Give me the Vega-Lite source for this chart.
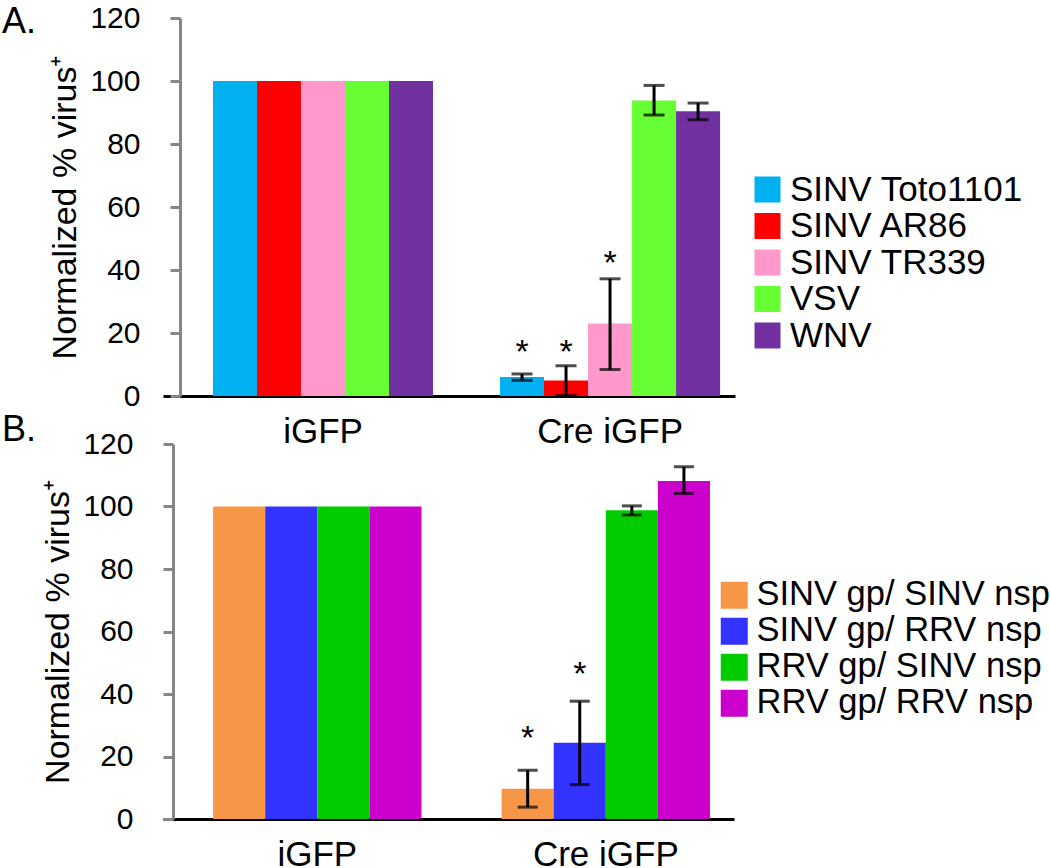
{
  "$schema": "https://vega.github.io/schema/vega-lite/v6.json",
  "background": "white",
  "padding": {"left": 2, "top": 3, "right": 5, "bottom": 0},
  "spacing": 48,
  "bounds": "flush",
  "config": {
    "font": "Liberation Sans",
    "view": {"stroke": null},
    "axis": {"labelColor": "black", "titleColor": "black", "grid": false, "titleFontWeight": "normal", "labelFont": "Liberation Sans", "titleFont": "Liberation Sans"},
    "legend": {"labelFont": "Liberation Sans", "labelColor": "black", "labelLimit": 0},
    "title": {"font": "Liberation Sans", "color": "black", "fontWeight": "normal"}
  },
  "resolve": {"scale": {"color": "independent", "x": "independent", "y": "independent", "xOffset": "independent"}, "legend": {"color": "independent"}},
  "vconcat": [
    {
      "title": {"text": "A.", "anchor": "start", "frame": "group", "fontSize": 36, "baseline": "alphabetic", "offset": -66, "dx": -161},
      "width": 572,
      "height": 378,
      "data": {"values": [
        {"group": "iGFP", "virus": "SINV Toto1101", "value": 100, "lo": null, "hi": null, "star": null},
        {"group": "iGFP", "virus": "SINV AR86", "value": 100, "lo": null, "hi": null, "star": null},
        {"group": "iGFP", "virus": "SINV TR339", "value": 100, "lo": null, "hi": null, "star": null},
        {"group": "iGFP", "virus": "VSV", "value": 100, "lo": null, "hi": null, "star": null},
        {"group": "iGFP", "virus": "WNV", "value": 100, "lo": null, "hi": null, "star": null},
        {"group": "Cre iGFP", "virus": "SINV Toto1101", "value": 6.0, "lo": 5.0, "hi": 7.0, "star": 16.3},
        {"group": "Cre iGFP", "virus": "SINV AR86", "value": 4.9, "lo": 0.2, "hi": 9.6, "star": 16.3},
        {"group": "Cre iGFP", "virus": "SINV TR339", "value": 23.0, "lo": 8.4, "hi": 37.2, "star": 44.4},
        {"group": "Cre iGFP", "virus": "VSV", "value": 93.8, "lo": 89.2, "hi": 98.6, "star": null},
        {"group": "Cre iGFP", "virus": "WNV", "value": 90.4, "lo": 87.7, "hi": 93.0, "star": null}
      ]},
      "encoding": {
        "x": {"field": "group", "type": "nominal", "sort": ["iGFP", "Cre iGFP"],
          "scale": {"type": "band", "paddingInner": 0.2334, "paddingOuter": 0.113, "align": 0.77},
          "axis": {"title": null, "labelAngle": 0, "labelFontSize": 35, "labelPadding": 18, "ticks": false, "tickSize": 0, "domainColor": "black", "domainWidth": 3}},
        "xOffset": {"field": "virus", "type": "nominal", "sort": ["SINV Toto1101", "SINV AR86", "SINV TR339", "VSV", "WNV"], "scale": {"type": "band", "paddingInner": 0, "paddingOuter": 0}}
      },
      "layer": [
        {
          "mark": {"type": "bar", "width": {"band": 1}},
          "encoding": {
            "y": {"field": "value", "type": "quantitative", "scale": {"domain": [0, 120]},
              "axis": {"title": "Normalized % virus⁺", "values": [0, 20, 40, 60, 80, 100, 120], "labelFontSize": 30, "titleFontSize": 34, "labelAlign": "right", "domainColor": "#868686", "tickColor": "#868686", "domainWidth": 3, "tickWidth": 3, "tickSize": 10, "labelPadding": 30, "offset": -17, "titlePadding": 7}},
            "color": {"field": "virus", "type": "nominal",
              "scale": {"domain": ["SINV Toto1101", "SINV AR86", "SINV TR339", "VSV", "WNV"], "range": ["#00B0F0", "#FF0000", "#FF99CC", "#66FF33", "#7030A0"]},
              "legend": {"orient": "none", "legendX": 587, "legendY": 154, "title": null, "symbolType": "square", "symbolSize": 676, "symbolStrokeWidth": 0, "symbolOpacity": 1, "labelFontSize": 35, "labelOffset": 5, "rowPadding": 0.5, "padding": 0}}
          }
        },
        {
          "transform": [{"filter": "datum.lo != null"}],
          "mark": {"type": "rule", "color": "black", "strokeWidth": 3},
          "encoding": {"y": {"field": "lo", "type": "quantitative"}, "y2": {"field": "hi"}}
        },
        {
          "transform": [{"filter": "datum.lo != null"}],
          "mark": {"type": "tick", "color": "black", "thickness": 3, "size": 21, "orient": "horizontal"},
          "encoding": {"y": {"field": "lo", "type": "quantitative"}}
        },
        {
          "transform": [{"filter": "datum.hi != null"}],
          "mark": {"type": "tick", "color": "black", "thickness": 3, "size": 21, "orient": "horizontal"},
          "encoding": {"y": {"field": "hi", "type": "quantitative"}}
        },
        {
          "transform": [{"filter": "datum.star != null"}],
          "mark": {"type": "text", "text": "*", "fontSize": 34, "baseline": "middle", "align": "center", "color": "black", "dy": 8},
          "encoding": {"y": {"field": "star", "type": "quantitative"}}
        }
      ]
    },
    {
      "title": {"text": "B.", "anchor": "start", "frame": "group", "fontSize": 36, "baseline": "alphabetic", "offset": -48, "dx": -161},
      "width": 571,
      "height": 375,
      "data": {"values": [
        {"group": "iGFP", "virus": "SINV gp/ SINV nsp", "value": 100, "lo": null, "hi": null, "star": null},
        {"group": "iGFP", "virus": "SINV gp/ RRV nsp", "value": 100, "lo": null, "hi": null, "star": null},
        {"group": "iGFP", "virus": "RRV gp/ SINV nsp", "value": 100, "lo": null, "hi": null, "star": null},
        {"group": "iGFP", "virus": "RRV gp/ RRV nsp", "value": 100, "lo": null, "hi": null, "star": null},
        {"group": "Cre iGFP", "virus": "SINV gp/ SINV nsp", "value": 9.7, "lo": 3.8, "hi": 15.6, "star": 28.1},
        {"group": "Cre iGFP", "virus": "SINV gp/ RRV nsp", "value": 24.4, "lo": 11.0, "hi": 37.7, "star": 48.5},
        {"group": "Cre iGFP", "virus": "RRV gp/ SINV nsp", "value": 98.8, "lo": 97.3, "hi": 100.2, "star": null},
        {"group": "Cre iGFP", "virus": "RRV gp/ RRV nsp", "value": 108.2, "lo": 104.2, "hi": 112.7, "star": null}
      ]},
      "encoding": {
        "x": {"field": "group", "type": "nominal", "sort": ["iGFP", "Cre iGFP"],
          "scale": {"type": "band", "paddingInner": 0.2778, "paddingOuter": 0.1285, "align": 0.676},
          "axis": {"title": null, "labelAngle": 0, "labelFontSize": 35, "labelPadding": 18, "ticks": false, "tickSize": 0, "domainColor": "black", "domainWidth": 3}},
        "xOffset": {"field": "virus", "type": "nominal", "sort": ["SINV gp/ SINV nsp", "SINV gp/ RRV nsp", "RRV gp/ SINV nsp", "RRV gp/ RRV nsp"], "scale": {"type": "band", "paddingInner": 0, "paddingOuter": 0}}
      },
      "layer": [
        {
          "mark": {"type": "bar", "width": {"band": 1}},
          "encoding": {
            "y": {"field": "value", "type": "quantitative", "scale": {"domain": [0, 120]},
              "axis": {"title": "Normalized % virus⁺", "values": [0, 20, 40, 60, 80, 100, 120], "labelFontSize": 30, "titleFontSize": 34, "labelAlign": "right", "domainColor": "#868686", "tickColor": "#868686", "domainWidth": 3, "tickWidth": 3, "tickSize": 10, "labelPadding": 30, "offset": -10, "titlePadding": 7}},
            "color": {"field": "virus", "type": "nominal",
              "scale": {"domain": ["SINV gp/ SINV nsp", "SINV gp/ RRV nsp", "RRV gp/ SINV nsp", "RRV gp/ RRV nsp"], "range": ["#F79646", "#3333FF", "#00CC00", "#CC00CC"]},
              "legend": {"orient": "none", "legendX": 554, "legendY": 134, "title": null, "symbolType": "square", "symbolSize": 729, "symbolStrokeWidth": 0, "symbolOpacity": 1, "labelFontSize": 34.5, "labelOffset": 5, "rowPadding": 1, "padding": 0}}
          }
        },
        {
          "transform": [{"filter": "datum.lo != null"}],
          "mark": {"type": "rule", "color": "black", "strokeWidth": 3},
          "encoding": {"y": {"field": "lo", "type": "quantitative"}, "y2": {"field": "hi"}}
        },
        {
          "transform": [{"filter": "datum.lo != null"}],
          "mark": {"type": "tick", "color": "black", "thickness": 3, "size": 20, "orient": "horizontal"},
          "encoding": {"y": {"field": "lo", "type": "quantitative"}}
        },
        {
          "transform": [{"filter": "datum.hi != null"}],
          "mark": {"type": "tick", "color": "black", "thickness": 3, "size": 20, "orient": "horizontal"},
          "encoding": {"y": {"field": "hi", "type": "quantitative"}}
        },
        {
          "transform": [{"filter": "datum.star != null"}],
          "mark": {"type": "text", "text": "*", "fontSize": 34, "baseline": "middle", "align": "center", "color": "black", "dy": 8},
          "encoding": {"y": {"field": "star", "type": "quantitative"}}
        }
      ]
    }
  ]
}
